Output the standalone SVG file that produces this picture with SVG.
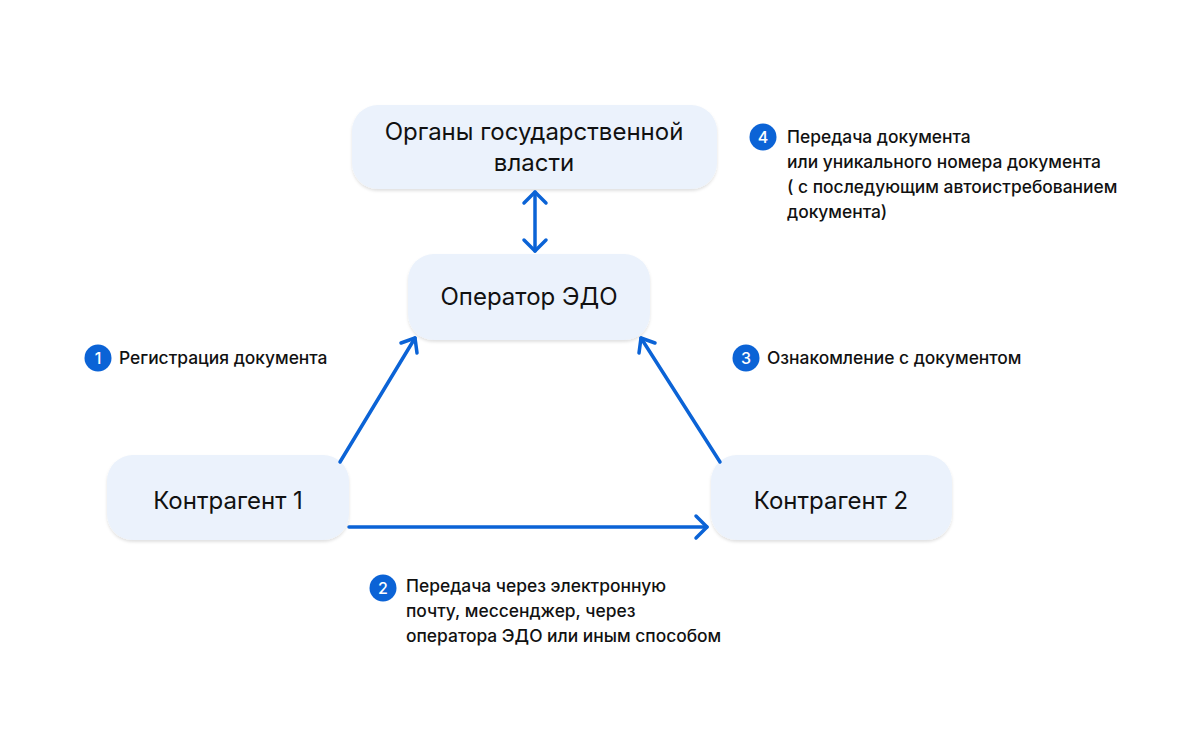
<svg xmlns="http://www.w3.org/2000/svg" width="1200" height="731" viewBox="0 0 1200 731">
<defs>
<style>
.box{fill:#EBF2FC;}
.bt{font-family:Inter,"Noto Sans",sans-serif;font-size:24px;font-weight:400;fill:#111;text-anchor:middle;}
.lt{font-family:Inter,"Noto Sans",sans-serif;font-size:17.4px;font-weight:500;fill:#111;}
.num{font-family:Inter,"Noto Sans",sans-serif;font-size:16px;font-weight:500;fill:#fff;text-anchor:middle;}
.badge{fill:#0B63D6;}
.conn{stroke:#0B63D6;stroke-width:3.5;fill:none;stroke-linecap:round;stroke-linejoin:round;}
</style>
<filter id="sh" x="-10%" y="-10%" width="120%" height="130%">
<feDropShadow dx="0" dy="2" stdDeviation="1.5" flood-color="#000" flood-opacity="0.12"/>
</filter>
</defs>
<rect width="1200" height="731" fill="#fff"/>
<g id="node-organy">
<rect class="box" x="352" y="105" width="365" height="84" rx="26" filter="url(#sh)"/>
<text class="bt" x="534" y="140">Органы государственной</text>
<text class="bt" x="534" y="171">власти</text>
</g>
<g id="node-operator">
<rect class="box" x="408" y="254" width="242" height="86" rx="26" filter="url(#sh)"/>
<text class="bt" x="529" y="305">Оператор ЭДО</text>
</g>
<g id="node-k1">
<rect class="box" x="107" y="455" width="242" height="85" rx="26" filter="url(#sh)"/>
<text class="bt" x="228" y="509">Контрагент 1</text>
</g>
<g id="node-k2">
<rect class="box" x="711" y="455" width="241" height="85" rx="26" filter="url(#sh)"/>
<text class="bt" x="831" y="509">Контрагент 2</text>
</g>
<g id="connectors">
<path class="conn" d="M535 192 V251"/>
<path class="conn" d="M524 203 L535 192 L546 203"/>
<path class="conn" d="M524 240 L535 251 L546 240"/>
<path class="conn" d="M340 462 L415 338"/>
<path class="conn" d="M401 343 L415 338 L417 353"/>
<path class="conn" d="M720 462 L641 338"/>
<path class="conn" d="M639 353 L641 338 L655 343"/>
<path class="conn" d="M349 527 L707 527"/>
<path class="conn" d="M696 516 L707 527 L696 538"/>
</g>
<g id="label-1">
<circle class="badge" cx="98" cy="358" r="13.5"/>
<text class="num" x="98" y="364">1</text>
<text class="lt" x="119" y="364">Регистрация документа</text>
</g>
<g id="label-3">
<circle class="badge" cx="746" cy="358" r="13.5"/>
<text class="num" x="746" y="364">3</text>
<text class="lt" x="767" y="364">Ознакомление с документом</text>
</g>
<g id="label-4">
<circle class="badge" cx="763" cy="137" r="13.5"/>
<text class="num" x="763" y="143">4</text>
<text class="lt" x="787" y="143">Передача документа</text>
<text class="lt" x="787" y="168">или уникального номера документа</text>
<text class="lt" x="787" y="193">( с последующим автоистребованием</text>
<text class="lt" x="787" y="218">документа)</text>
</g>
<g id="label-2">
<circle class="badge" cx="383" cy="588" r="13.5"/>
<text class="num" x="383" y="594">2</text>
<text class="lt" x="406" y="592">Передача через электронную</text>
<text class="lt" x="406" y="617">почту, мессенджер, через</text>
<text class="lt" x="406" y="642">оператора ЭДО или иным способом</text>
</g>
</svg>
